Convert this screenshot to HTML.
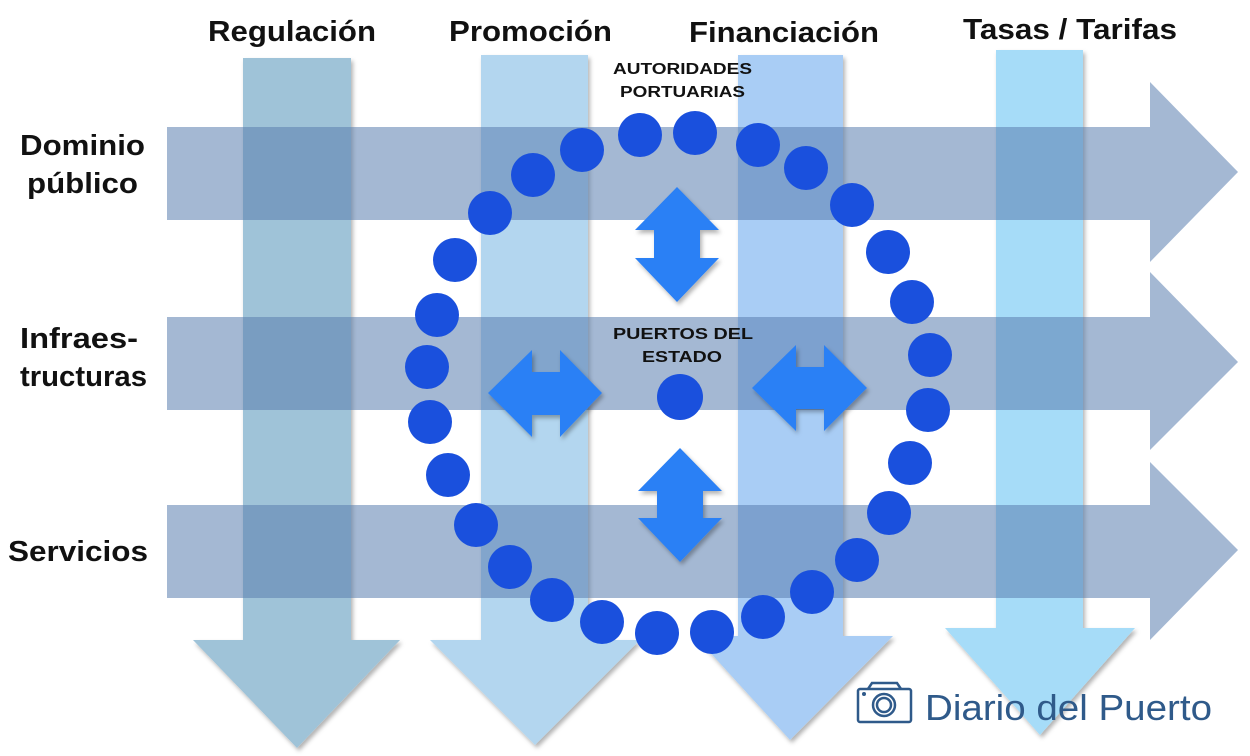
<!DOCTYPE html>
<html><head><meta charset="utf-8"><style>
html,body{margin:0;padding:0;background:#fff;}
svg{display:block;}
text{font-family:"Liberation Sans",Arial,sans-serif;font-weight:bold;}
</style></head><body>
<svg width="1250" height="756" viewBox="0 0 1250 756" xmlns="http://www.w3.org/2000/svg">
<defs>
<filter id="sh" x="-10%" y="-10%" width="120%" height="120%"><feDropShadow dx="2" dy="3" stdDeviation="2" flood-color="#000" flood-opacity="0.3"/></filter>
</defs>
<rect width="1250" height="756" fill="#fff"/>
<polygon filter="url(#sh)" fill="#9fc3d8" points="243,58 351,58 351,640 400,640 297,748 193,640 243,640"/>
<polygon filter="url(#sh)" fill="#b3d6ef" points="481,55 588,55 588,640 640,640 535,745 430,640 481,640"/>
<polygon filter="url(#sh)" fill="#a9cdf5" points="738,55 843,55 843,636 893,636 790,740 695,636 738,636"/>
<polygon filter="url(#sh)" fill="#a6dcf8" points="996,50 1083,50 1083,628 1135,628 1040,735 945,628 996,628"/>
<g fill="rgba(90,125,175,0.55)">
<polygon points="167,127 1150,127 1150,82 1238,172 1150,262 1150,220 167,220"/>
<polygon points="167,317 1150,317 1150,272 1238,362 1150,450 1150,410 167,410"/>
<polygon points="167,505 1150,505 1150,462 1238,550 1150,640 1150,598 167,598"/>
</g>
<g font-size="29" fill="#111" lengthAdjust="spacingAndGlyphs">
<text x="208" y="41" textLength="168" lengthAdjust="spacingAndGlyphs">Regulación</text>
<text x="449" y="41" textLength="163" lengthAdjust="spacingAndGlyphs">Promoción</text>
<text x="689" y="42" textLength="190" lengthAdjust="spacingAndGlyphs">Financiación</text>
<text x="963" y="39" textLength="214" lengthAdjust="spacingAndGlyphs">Tasas / Tarifas</text>
<text x="20" y="155" textLength="125" lengthAdjust="spacingAndGlyphs">Dominio</text>
<text x="27" y="193" textLength="111" lengthAdjust="spacingAndGlyphs">público</text>
<text x="20" y="348" textLength="118" lengthAdjust="spacingAndGlyphs">Infraes-</text>
<text x="20" y="386" textLength="127" lengthAdjust="spacingAndGlyphs">tructuras</text>
<text x="8" y="561" textLength="140" lengthAdjust="spacingAndGlyphs">Servicios</text>
</g>
<g font-size="16" fill="#111">
<text x="613" y="74" textLength="139" lengthAdjust="spacingAndGlyphs">AUTORIDADES</text>
<text x="620" y="97" textLength="125" lengthAdjust="spacingAndGlyphs">PORTUARIAS</text>
<text x="613" y="339" textLength="140" lengthAdjust="spacingAndGlyphs">PUERTOS  DEL</text>
<text x="642" y="362" textLength="80" lengthAdjust="spacingAndGlyphs">ESTADO</text>
</g>
<g fill="#2a80f5" filter="url(#sh)">
<polygon points="677,187 719,230 700,230 700,258 719,258 677,302 635,258 654,258 654,230 635,230"/>
<polygon points="680,448 722,491 703,491 703,518 722,518 680,562 638,518 657,518 657,491 638,491"/>
<polygon points="488,393 532,350 532,372 560,372 560,350 602,393 560,437 560,415 532,415 532,437"/>
<polygon points="752,388 796,345 796,367 824,367 824,345 867,388 824,431 824,409 796,409 796,431"/>
</g>
<g fill="#1a50dd">
<circle cx="640" cy="135" r="22"/><circle cx="695" cy="133" r="22"/><circle cx="758" cy="145" r="22"/><circle cx="806" cy="168" r="22"/><circle cx="852" cy="205" r="22"/><circle cx="888" cy="252" r="22"/><circle cx="912" cy="302" r="22"/><circle cx="930" cy="355" r="22"/><circle cx="928" cy="410" r="22"/><circle cx="910" cy="463" r="22"/><circle cx="889" cy="513" r="22"/><circle cx="857" cy="560" r="22"/><circle cx="812" cy="592" r="22"/><circle cx="763" cy="617" r="22"/><circle cx="712" cy="632" r="22"/><circle cx="657" cy="633" r="22"/><circle cx="602" cy="622" r="22"/><circle cx="552" cy="600" r="22"/><circle cx="510" cy="567" r="22"/><circle cx="476" cy="525" r="22"/><circle cx="448" cy="475" r="22"/><circle cx="430" cy="422" r="22"/><circle cx="427" cy="367" r="22"/><circle cx="437" cy="315" r="22"/><circle cx="455" cy="260" r="22"/><circle cx="490" cy="213" r="22"/><circle cx="533" cy="175" r="22"/><circle cx="582" cy="150" r="22"/>
<circle cx="680" cy="397" r="23"/>
</g>
<g stroke="#2f5a8a" stroke-width="2.5" fill="none">
<rect x="858" y="689" width="53" height="33" rx="2"/>
<path d="M868,689 L872,683 L897,683 L901,689"/>
<circle cx="884" cy="705" r="11"/><circle cx="884" cy="705" r="7"/>
</g>
<circle cx="864" cy="694" r="2" fill="#2f5a8a"/>
<text x="925" y="720" font-size="36" fill="#2f5a8a" style="font-weight:normal" textLength="287" lengthAdjust="spacingAndGlyphs">Diario del Puerto</text>
</svg>
</body></html>
